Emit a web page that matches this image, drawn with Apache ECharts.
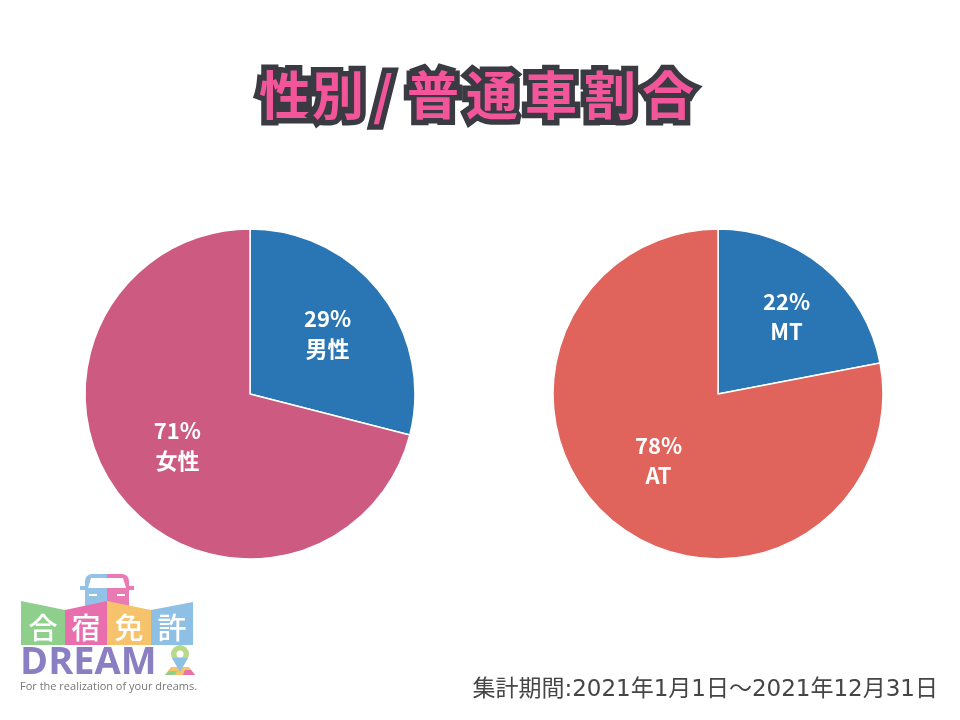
<!DOCTYPE html>
<html>
<head>
<meta charset="utf-8">
<script src="https://cdn.jsdelivr.net/npm/echarts@6/dist/echarts.min.js"></script>
<style>html,body{margin:0;padding:0;background:#fff;}#main{width:960px;height:720px;}</style>
</head>
<body>
<div id="main"></div>
<script>
const titleChars = ['性', '別', '/', '普', '通', '車', '割', '合'];
const genderLabels = ['男性', '女性'];
const genderValues = [29, 71];
const transLabels = ['MT', 'AT'];
const transValues = [22, 78];
const footnote = '集計期間:2021年1月1日〜2021年12月31日';

const FONT = '"Noto Sans CJK JP", "Noto Sans", sans-serif';
const chart = echarts.init(document.getElementById('main'), null, {renderer: 'canvas'});

function mk(labels, values, colors, offsets) {
  return labels.map((l, i) => ({
    name: l, value: values[i],
    itemStyle: {color: colors[i]},
    label: {offset: offsets[i]}
  }));
}

const labelStyle = {
  show: true, position: 'inside', formatter: '{c}%\n{b}',
  color: '#fff', fontSize: 22, fontWeight: 'bold', lineHeight: 30, fontFamily: FONT
};

// title glyph layout (pitch across the header)
const titleCenters = [285, 338, 383, 433, 492, 551, 610, 668];
const titleGraphics = titleChars.map((ch, i) => ({
  type: 'text', x: titleCenters[i], y: 95,
  style: {
    text: ch, fill: '#f2559a', stroke: '#3a3b42', lineWidth: 11,
    font: 'bold 52px ' + FONT, lineJoin: 'round', align: 'center', verticalAlign: 'middle'
  }
}));

const option = {
  backgroundColor: '#fff',
  animation: false,
  series: [
    {
      type: 'pie', center: [250, 394], radius: [0, 165], startAngle: 90, clockwise: true,
      label: labelStyle, labelLine: {show: false},
      itemStyle: {borderColor: '#fff', borderWidth: 1.5},
      emphasis: {disabled: true},
      data: mk(genderLabels, genderValues, ['#2a76b4', '#cc5a81'], [[10, -8], [-5, -1]])
    },
    {
      type: 'pie', center: [718, 394], radius: [0, 165], startAngle: 90, clockwise: true,
      label: labelStyle, labelLine: {show: false},
      itemStyle: {borderColor: '#fff', borderWidth: 1.5},
      emphasis: {disabled: true},
      data: mk(transLabels, transValues, ['#2a76b4', '#e0635c'], [[14, -11], [-5, 1]])
    }
  ],
  graphic: titleGraphics.concat([
    {
      type: 'text', x: 938, y: 690,
      style: {text: footnote, fill: '#454545', font: '23px "DejaVu Sans", ' + FONT, align: 'right', verticalAlign: 'middle'}
    },
    // logo
    {
      type: 'group', left: 20, top: 574,
      children: [
        // car
        {type: 'rect', shape: {x: 66, y: 3, width: 22, height: 37, r: [7, 0, 0, 4]}, style: {fill: '#93c2e6'}},
        {type: 'rect', shape: {x: 88, y: 3, width: 22, height: 37, r: [0, 7, 4, 0]}, style: {fill: '#ea7ab3'}},
        {type: 'polygon', shape: {points: [[72, 7], [104, 7], [107, 17], [69, 17]]}, style: {fill: '#fff'}},
        {type: 'rect', shape: {x: 61, y: 15, width: 6, height: 4}, style: {fill: '#93c2e6'}},
        {type: 'rect', shape: {x: 109, y: 15, width: 6, height: 4}, style: {fill: '#ea7ab3'}},
        {type: 'rect', shape: {x: 70, y: 23, width: 8, height: 2}, style: {fill: '#fff'}},
        {type: 'rect', shape: {x: 98, y: 23, width: 8, height: 2}, style: {fill: '#fff'}},
        // blocks
        {type: 'polygon', shape: {points: [[2, 30], [46, 39], [46, 74], [2, 74]]}, style: {fill: '#8fcf8c'}},
        {type: 'polygon', shape: {points: [[46, 39], [88, 30], [88, 74], [46, 74]]}, style: {fill: '#e96eae'}},
        {type: 'polygon', shape: {points: [[88, 30], [132, 39], [132, 74], [88, 74]]}, style: {fill: '#f7c26c'}},
        {type: 'polygon', shape: {points: [[132, 39], [174, 31], [174, 74], [132, 74]]}, style: {fill: '#8ec0e6'}},
        {type: 'text', x: 24, y: 57, style: {text: '合', fill: '#fff', font: '500 29px ' + FONT, align: 'center', verticalAlign: 'middle'}},
        {type: 'text', x: 67, y: 57, style: {text: '宿', fill: '#fff', font: '500 29px ' + FONT, align: 'center', verticalAlign: 'middle'}},
        {type: 'text', x: 110, y: 57, style: {text: '免', fill: '#fff', font: '500 29px ' + FONT, align: 'center', verticalAlign: 'middle'}},
        {type: 'text', x: 153, y: 57, style: {text: '許', fill: '#fff', font: '500 29px ' + FONT, align: 'center', verticalAlign: 'middle'}},
        // DREAM
        {type: 'text', x: 1, y: 92, style: {text: 'DREAM', fill: '#8b7fc3', font: 'bold 38px "Open Sans", "DejaVu Sans", sans-serif', verticalAlign: 'middle'}},
        // pin
        {type: 'polygon', shape: {points: [[146, 104], [176, 104], [170, 96], [152, 96]]}, style: {fill: '#f5c36c'}},
        {type: 'polygon', shape: {points: [[146, 104], [156, 104], [158, 100], [150, 100]]}, style: {fill: '#8fcf8c'}},
        {type: 'polygon', shape: {points: [[164, 104], [176, 104], [172, 99], [166, 99]]}, style: {fill: '#e96eae'}},
        {type: 'circle', shape: {cx: 161, cy: 83, r: 9}, style: {fill: '#b9d98a'}},
        {type: 'polygon', shape: {points: [[153, 87], [169, 87], [161, 101]]}, style: {fill: '#8ec0e6'}},
        {type: 'circle', shape: {cx: 161, cy: 83, r: 3.5}, style: {fill: '#fff'}},
        // tagline
        {type: 'text', x: 1, y: 116, style: {text: 'For the realization of your dreams.', fill: '#777', font: '11px "Open Sans", "DejaVu Sans", sans-serif', verticalAlign: 'middle'}}
      ]
    }
  ])
};
chart.setOption(option);
</script>
</body>
</html>
